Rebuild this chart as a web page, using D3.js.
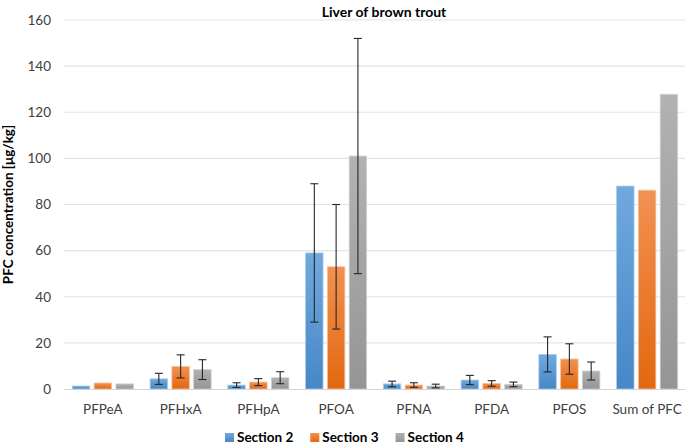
<!DOCTYPE html>
<html>
<head>
<meta charset="utf-8">
<title>Liver of brown trout</title>
<script src="https://cdn.jsdelivr.net/npm/d3@7"></script>
<style>
body { margin: 0; background: #fff; }
text { font-family: Lato, "Open Sans", sans-serif; fill: #404040; }
</style>
</head>
<body>
<svg id="chart" width="685" height="447"></svg>
<script>
// values (µg/kg); null = no error bar drawn
var categories = ["PFPeA", "PFHxA", "PFHpA", "PFOA", "PFNA", "PFDA", "PFOS", "Sum of PFC"];
var series = ["Section 2", "Section 3", "Section 4"];

var section2 = [1.3, 4.4, 1.7, 59, 2.2, 3.9, 15, 88];
var section2_err = [null, 2.4, 1.0, 30, 1.2, 2.0, 7.6, null];
var section3 = [2.6, 9.8, 3.0, 53, 1.7, 2.4, 13, 86.2];
var section3_err = [null, 5.0, 1.5, 27, 1.0, 1.2, 6.6, null];
var section4 = [2.2, 8.4, 4.9, 101, 1.3, 2.0, 7.8, 127.8];
var section4_err = [null, 4.3, 2.6, 51, 0.8, 1.0, 3.9, null];

var y_ticks = [0, 20, 40, 60, 80, 100, 120, 140, 160];

var values = [section2, section3, section4];
var errors = [section2_err, section3_err, section4_err];
var colors = [
  {top: "#70a9de", bottom: "#4787c7", edge: "#a9cbeb"},
  {top: "#f29152", bottom: "#e2680f", edge: "#f7bf99"},
  {top: "#b2b2b2", bottom: "#959595", edge: "#cfcfcf"}
];

var svg = d3.select("#chart");
var plot_left = 64, plot_right = 686, plot_top = 20, plot_bottom = 389;

var x0 = d3.scaleBand().domain(categories).range([plot_left, plot_right]).paddingInner(0.215).paddingOuter(0.1075);
var x1 = d3.scaleBand().domain(series).range([0, x0.bandwidth()]).paddingInner(0.2);
var y = d3.scaleLinear().domain([0, 160]).range([plot_bottom, plot_top]);

// gradients
var defs = svg.append("defs");
colors.forEach(function(c, i) {
  var g = defs.append("linearGradient").attr("id", "grad" + i)
    .attr("x1", 0).attr("y1", 0).attr("x2", 0).attr("y2", 1);
  g.append("stop").attr("offset", "0%").attr("stop-color", c.top);
  g.append("stop").attr("offset", "100%").attr("stop-color", c.bottom);
});

// gridlines
svg.append("g").selectAll("line").data(y_ticks.slice(1)).enter()
  .append("line")
  .attr("x1", plot_left).attr("x2", plot_right)
  .attr("y1", function(d) { return y(d); }).attr("y2", function(d) { return y(d); })
  .style("stroke", "#dfe3ea").style("stroke-width", 1.2);

// y axis labels
var yAxis = svg.append("g").attr("transform", "translate(" + (plot_left - 4) + ",0)")
  .call(d3.axisLeft(y).tickValues(y_ticks).tickSize(0).tickPadding(9));
yAxis.select(".domain").remove();
yAxis.selectAll("text").style("font-size", "13.5px").style("fill", "#404040")
  .style("font-family", "Lato, sans-serif");

// bars
var groups = svg.append("g").selectAll("g").data(categories).enter()
  .append("g").attr("transform", function(d) { return "translate(" + x0(d) + ",0)"; });

groups.selectAll("rect").data(function(d, ci) {
  return series.map(function(s, si) { return {s: s, si: si, v: values[si][ci]}; });
}).enter().append("rect")
  .attr("x", function(d) { return x1(d.s); })
  .attr("width", x1.bandwidth())
  .attr("y", function(d) { return y(d.v); })
  .attr("height", function(d) { return y(0) - y(d.v); })
  .style("fill", function(d) { return "url(#grad" + d.si + ")"; })
  .style("stroke", function(d) { return colors[d.si].edge; })
  .style("stroke-width", 0.8);

// error bars
var eb = groups.selectAll("g.err").data(function(d, ci) {
  return series.map(function(s, si) { return {s: s, v: values[si][ci], e: errors[si][ci]}; })
    .filter(function(d) { return d.e != null; });
}).enter().append("g").attr("class", "err")
  .style("stroke", "#262626").style("stroke-width", 1.1);

eb.append("line")
  .attr("x1", function(d) { return x1(d.s) + x1.bandwidth() / 2; })
  .attr("x2", function(d) { return x1(d.s) + x1.bandwidth() / 2; })
  .attr("y1", function(d) { return y(d.v + d.e); })
  .attr("y2", function(d) { return y(d.v - d.e); });
[1, -1].forEach(function(sign) {
  eb.append("line")
    .attr("x1", function(d) { return x1(d.s) + x1.bandwidth() / 2 - 4; })
    .attr("x2", function(d) { return x1(d.s) + x1.bandwidth() / 2 + 4; })
    .attr("y1", function(d) { return y(d.v + sign * d.e); })
    .attr("y2", function(d) { return y(d.v + sign * d.e); });
});

// x axis
var xAxis = svg.append("g").attr("transform", "translate(0," + plot_bottom + ")")
  .call(d3.axisBottom(x0).tickSize(0).tickPadding(15));
xAxis.select(".domain").style("stroke", "#d0d4da").style("stroke-width", 1.2);
xAxis.selectAll("text").style("font-size", "13.5px").style("fill", "#404040")
  .style("font-family", "Lato, sans-serif");

// title
svg.append("text").attr("x", 384).attr("y", 17).attr("text-anchor", "middle")
  .style("font-size", "14px").style("font-weight", "bold").style("fill", "#000")
  .text("Liver of brown trout");

// y title
svg.append("text").attr("transform", "translate(13," + ((plot_top + plot_bottom) / 2) + ") rotate(-90)")
  .attr("text-anchor", "middle")
  .style("font-size", "13.5px").style("font-weight", "bold").style("fill", "#000")
  .text("PFC concentration [\u03bcg/kg]");

// legend
var legend = svg.append("g").attr("transform", "translate(225,442)");
var lx = 0;
series.forEach(function(s, i) {
  var item = legend.append("g").attr("transform", "translate(" + lx + ",0)");
  item.append("rect").attr("x", 0).attr("y", -9).attr("width", 9).attr("height", 9)
    .style("fill", "url(#grad" + i + ")");
  var t = item.append("text").attr("x", 12).attr("y", 0)
    .style("font-size", "13.5px").style("font-weight", "bold").style("fill", "#000")
    .text(s);
  lx += 12 + t.node().getComputedTextLength() + 17;
});
</script>
</body>
</html>
